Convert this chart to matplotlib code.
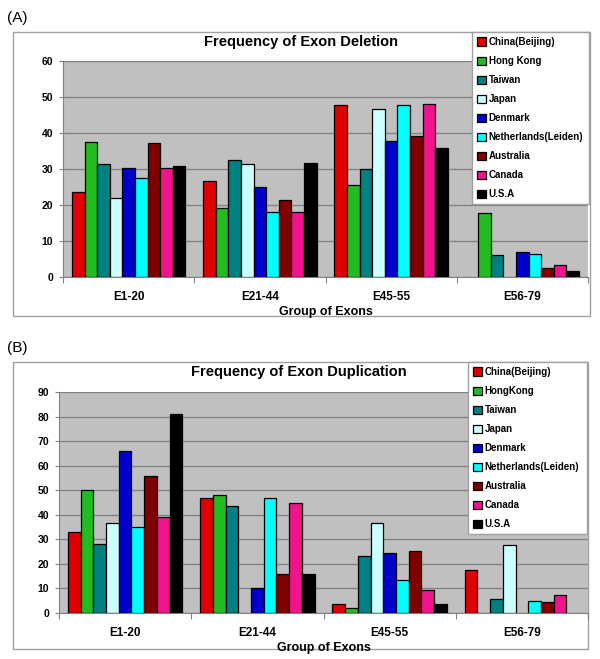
import numpy as np
import matplotlib
matplotlib.use("Agg")
import matplotlib.pyplot as plt
import matplotlib.patches as patches

plt.rcParams['font.family'] = ['Liberation Sans', 'DejaVu Sans']

groups = ["E1-20", "E21-44", "E45-55", "E56-79"]
countries_a = ["China(Beijing)", "Hong Kong", "Taiwan", "Japan", "Denmark",
               "Netherlands(Leiden)", "Australia", "Canada", "U.S.A"]
countries_b = ["China(Beijing)", "HongKong", "Taiwan", "Japan", "Denmark",
               "Netherlands(Leiden)", "Australia", "Canada", "U.S.A"]
colors = ["#E00000", "#22BB22", "#008080", "#CCFFFF", "#0000CC",
          "#00FFFF", "#800000", "#F0148C", "#000000"]

# rows = country, columns = exon group
deletion = [
    [23.7, 26.7, 47.7, 0.0],
    [37.5, 19.2, 25.6, 17.7],
    [31.3, 32.5, 29.9, 6.1],
    [22.0, 31.4, 46.7, 0.0],
    [30.3, 24.9, 37.7, 7.0],
    [27.4, 18.1, 47.9, 6.5],
    [37.2, 21.3, 39.2, 2.4],
    [30.4, 18.1, 48.0, 3.3],
    [30.8, 31.8, 35.8, 1.8],
]
duplication = [
    [32.8, 46.9, 3.5, 17.4],
    [50.1, 48.1, 2.2, 0.0],
    [27.9, 43.7, 23.3, 5.7],
    [36.5, 0.0, 36.5, 27.5],
    [66.1, 10.2, 24.3, 0.0],
    [35.0, 47.0, 13.6, 4.9],
    [55.6, 15.9, 25.2, 4.4],
    [39.0, 44.7, 9.4, 7.5],
    [80.9, 15.9, 3.8, 0.0],
]

W, H = 600, 659
fig = plt.figure(figsize=(W / 100, H / 100), dpi=100)


def px_axes(l, t, r, b):
    return fig.add_axes([l / W, 1 - b / H, (r - l) / W, (b - t) / H])


def panel(tag, title, data, names, ymax, box, plot, leg):
    # outer frame of the chart, behind the axes
    bl, bt, br, bb = box
    fig.patches.append(patches.Rectangle((bl / W, 1 - bb / H), (br - bl) / W, (bb - bt) / H,
                                         transform=fig.transFigure, facecolor="white",
                                         edgecolor="#A0A0A0", lw=1.0, zorder=-5))
    fig.text(7 / W, 1 - (bt - 14) / H, tag, fontsize=11, va="center", ha="left")

    ax = px_axes(*plot)
    ax.set_facecolor("#C0C0C0")
    x = np.arange(len(groups))
    bw = 0.096
    for i, vals in enumerate(data):
        edges = ["black" if v > 0 else "none" for v in vals]
        ax.bar(x + (i - 4) * bw, vals, bw, color=colors[i], edgecolor=edges,
               linewidth=0.9, label=names[i], zorder=3)
    ax.set_xlim(-0.5, len(groups) - 0.5)
    ax.set_ylim(0, ymax)
    ax.set_yticks(np.arange(0, ymax + 1, 10))
    ax.yaxis.grid(True, color="#808080", lw=0.9, zorder=1)
    ax.set_axisbelow(True)
    ax.set_xticks(np.arange(-0.5, len(groups)), labels=[])
    ax.set_xticks(x, labels=groups, minor=True)
    ax.tick_params(axis="x", which="major", length=4, color="#808080", direction="out")
    ax.tick_params(axis="x", which="minor", length=0, pad=10, labelsize=8.5)
    ax.tick_params(axis="y", length=3, color="#808080", labelsize=7.5, pad=4)
    for lab in ax.get_xticklabels(minor=True) + ax.get_yticklabels():
        lab.set_fontweight("bold")
    for s in ["top", "right"]:
        ax.spines[s].set_visible(False)
    for s in ["left", "bottom"]:
        ax.spines[s].set_color("#808080")
    ax.set_xlabel("Group of Exons", fontsize=9, fontweight="bold", labelpad=2)

    cx = (plot[0] + plot[2]) / 2
    fig.text((cx - 25) / W, 1 - (bt + 10) / H, title, fontsize=10.5, fontweight="bold",
             ha="center", va="center")

    ll, lt, lr, lb = leg
    lg = ax.legend(loc="upper left",
                   bbox_to_anchor=(ll / W, 1 - lb / H, (lr - ll) / W, (lb - lt) / H),
                   bbox_transform=fig.transFigure, mode="expand",
                   prop={"weight": "bold", "size": 7}, handlelength=0.9, handleheight=0.9,
                   handletextpad=0.3, labelspacing=0.93, borderpad=0.5, fancybox=False,
                   framealpha=1, edgecolor="#A0A0A0", borderaxespad=0)
    lg.get_frame().set_linewidth(1.0)
    lg.set_zorder(10)


panel("(A)", "Frequency of Exon Deletion", deletion, countries_a, 60,
      (13, 32, 590, 316), (63, 61, 588, 277), (472, 32, 589, 204))
panel("(B)", "Frequency of Exon Duplication", duplication, countries_b, 90,
      (13, 362, 588, 649), (59, 392, 588, 613), (468, 362, 587, 536))

fig.savefig("out.png", dpi=100)
